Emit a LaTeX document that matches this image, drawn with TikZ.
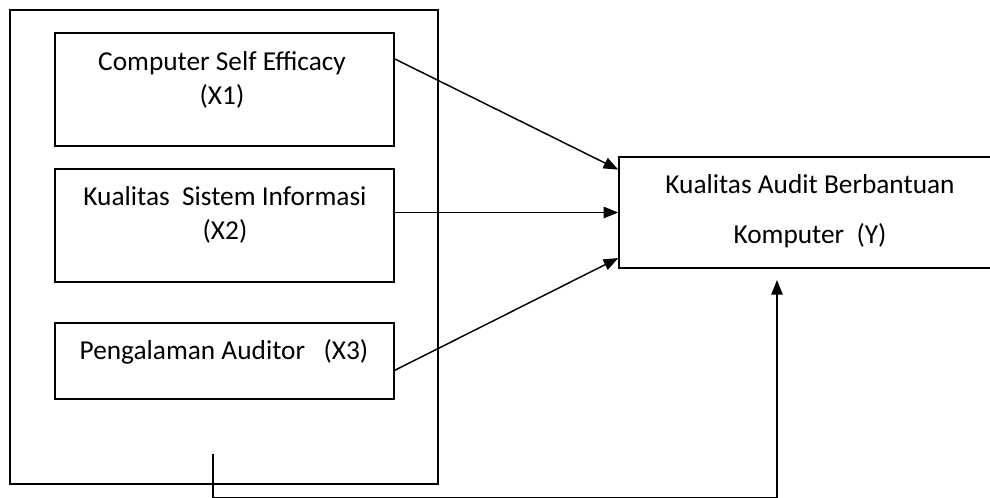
\documentclass[tikz,border=0pt]{standalone}
\usepackage{fontspec}
\setmainfont{Carlito}
\usepackage{tikz}
\usetikzlibrary{arrows.meta,fit}
\newcommand{\varfont}{\fontsize{20.5}{26}\selectfont}

\begin{document}
\begin{tikzpicture}[x=0.75pt,y=-0.75pt,
	box/.style={draw, line width=1.1pt, inner sep=0pt},
	txt/.style={align=center, font=\varfont, inner sep=0pt},
	arr/.style={-{Triangle[length=11pt,width=8.5pt]}, line width=1.1pt}]
	\useasboundingbox (0,0) rectangle (990,498);

	\node (outer) [box, line width=1pt, fit={(10,10) (438,484)}] {};
	\node (x1) [box, fit={(55,33) (394,146)}] {};
	\node (x2) [box, fit={(55,169) (394,282)}] {};
	\node (x3) [box, fit={(55,323) (394,399)}] {};
	\node (y) [box, fit={(619,157) (1000,268)}] {};

	\node (x1text) [txt] at (222,80) {Computer Self Efficacy\\(X1)};
	\node (x2text) [txt] at (225,215) {Kualitas\ \ Sistem Informasi\\(X2)};
	\node (x3text) [txt] at (224,352) {Pengalaman Auditor\ \ \ (X3)};
	\node (ytext) [txt, font=\fontsize{20.5}{37.5}\selectfont] at (810,211) {Kualitas Audit Berbantuan\\Komputer\ \ (Y)};

	\coordinate (fb) at (213,454);
	\coordinate (jn) at (213,497.5);
	\coordinate (up) at (777,280);

	\draw[arr] ([yshift=-20pt]x1.north east) -- ([yshift=-10pt]y.north west);
	\draw[arr] (x2.east |- y.west) -- (y.west);
	\draw[arr] ([yshift=-7pt]x3.east) -- ([yshift=8pt]y.south west);
	\draw[arr] (fb) -- (jn) -| (up);
\end{tikzpicture}
\end{document}
